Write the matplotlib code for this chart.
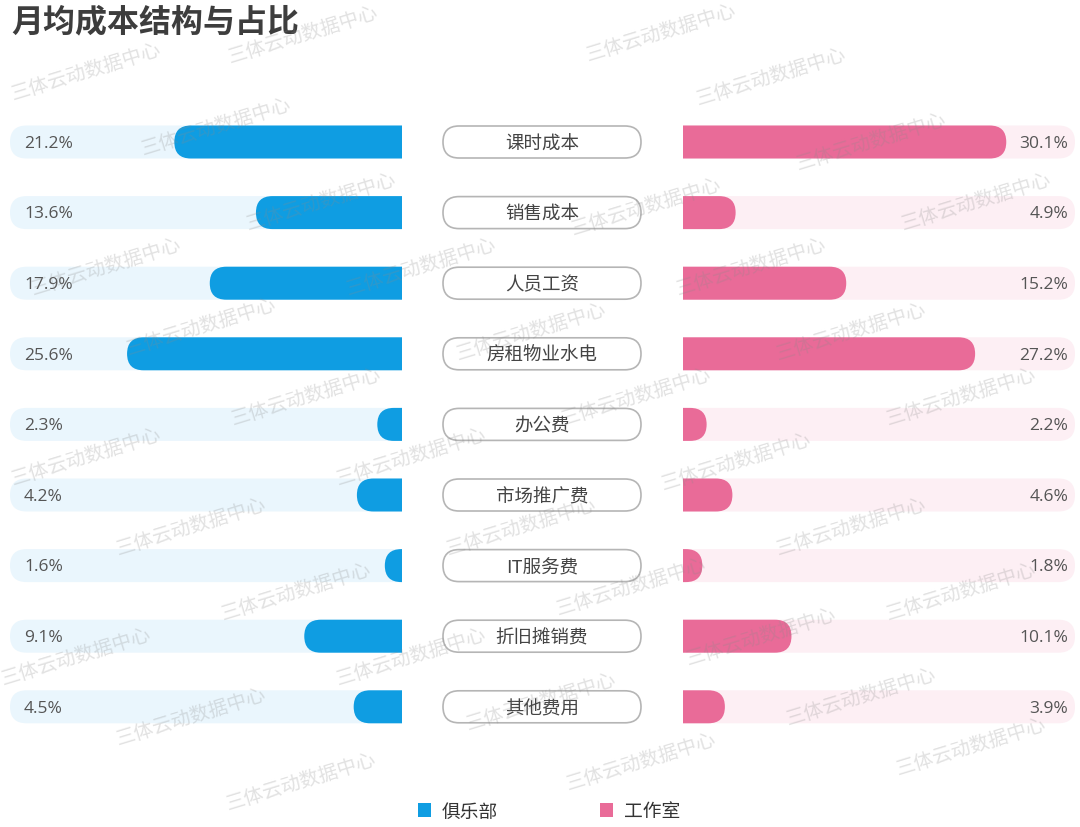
import numpy as np
import matplotlib
matplotlib.use('Agg')
import matplotlib.pyplot as plt
from matplotlib.patches import FancyBboxPatch, Patch

plt.rcParams['font.family'] = ['Noto Sans CJK SC', 'DejaVu Sans']

# data
categories = ['课时成本', '销售成本', '人员工资', '房租物业水电', '办公费',
              '市场推广费', 'IT服务费', '折旧摊销费', '其他费用']
club = [21.2, 13.6, 17.9, 25.6, 2.3, 4.2, 1.6, 9.1, 4.5]
studio = [30.1, 4.9, 15.2, 27.2, 2.2, 4.6, 1.8, 10.1, 3.9]
series_names = ['俱乐部', '工作室']

BLUE = '#0f9de2'
BLUE_BG = '#eaf6fd'
PINK = '#e96b98'
PINK_BG = '#fdeff4'
XMAX = 36.5

W, H = 1080, 828
fig = plt.figure(figsize=(W / 100, H / 100), dpi=100)
fig.patch.set_facecolor('white')

n = len(categories)
row_px = 70.6
top_px = 143 - row_px / 2
ax_h = n * row_px
bottom = (H - top_px - ax_h) / H


def side_axes(x0, x1):
    ax = fig.add_axes([x0 / W, bottom, (x1 - x0) / W, ax_h / H])
    ax.set_ylim(n - 0.5, -0.5)
    ax.axis('off')
    return ax


ax_l = side_axes(10, 402)
ax_r = side_axes(683, 1075)
ax_c = side_axes(402, 683)
ax_l.set_xlim(XMAX, 0)
ax_r.set_xlim(0, XMAX)
ax_c.set_xlim(0, 1)

bar_h = 33 / row_px
px_x = 392 / XMAX
asp = (1 / row_px) / (1 / px_x)  # y-units per x-unit of equal pixel length
r = (bar_h / 2) / asp


def rounded(ax, v, color, z):
    # box mirrored around 0 and clipped by the axes -> flat inner end
    p = FancyBboxPatch((-v, -bar_h / 2), 2 * v, bar_h,
                       boxstyle=f'round,pad=0,rounding_size={r}',
                       mutation_aspect=asp, fc=color, ec='none', zorder=z)
    return p


pct_font = ['Open Sans', 'DejaVu Sans']
for i in range(n):
    for ax, v, c, bg in [(ax_l, club[i], BLUE, BLUE_BG), (ax_r, studio[i], PINK, PINK_BG)]:
        t = rounded(ax, XMAX, bg, 1)
        t.set_y(i - bar_h / 2)
        ax.add_patch(t)
        b = rounded(ax, v, c, 2)
        b.set_y(i - bar_h / 2)
        ax.add_patch(b)
    ax_l.text(14 / 392, i + 0.01, f'{club[i]}%', transform=ax_l.get_yaxis_transform(),
              ha='left', va='center', fontsize=12.5, color='#555555', zorder=3,
              family=pct_font)
    ax_r.text(385 / 392, i + 0.01, f'{studio[i]}%', transform=ax_r.get_yaxis_transform(),
              ha='right', va='center', fontsize=12.5, color='#555555', zorder=3,
              family=pct_font)

# center pill labels
cw = 281
ph = 32 / row_px
c_asp = (1 / row_px) / (1 / cw)
cr = (ph / 2) / c_asp
for i, cat in enumerate(categories):
    x0 = (443 - 402) / cw
    x1 = (641 - 402) / cw
    pill = FancyBboxPatch((x0, i - ph / 2), x1 - x0, ph,
                          boxstyle=f'round,pad=0,rounding_size={cr}',
                          mutation_aspect=c_asp, fc='white', ec='#b5b5b5', lw=1.2)
    ax_c.add_patch(pill)
    ax_c.text((x0 + x1) / 2, i + 0.02, cat, ha='center', va='center',
              fontsize=13.3, color='#444444')

fig.text(11 / W, 1 - 22 / H, '月均成本结构与占比', fontsize=23, fontweight='bold',
         color='#3d3d3d', ha='left', va='center')

handles = [Patch(fc=BLUE, ec='none'), Patch(fc=PINK, ec='none')]
fig.legend(handles, series_names, loc='center', bbox_to_anchor=(549 / W, 1 - 812 / H),
           ncol=2, frameon=False, fontsize=13.5, handlelength=0.7, handleheight=0.7,
           handletextpad=0.6, columnspacing=5.4, labelcolor='#333333')

# watermark
wm_pos = [(232, 68), (590, 66), (15, 105), (700, 110), (145, 160), (800, 175),
          (250, 235), (575, 240), (905, 235), (35, 300), (350, 300),
          (680, 300), (130, 360), (460, 365), (780, 365),
          (235, 430), (565, 430), (890, 430), (15, 490), (340, 490), (665, 495),
          (120, 560), (450, 560), (780, 560), (225, 625), (560, 620),
          (890, 625), (5, 690), (340, 690), (690, 670), (120, 750),
          (470, 735), (790, 730), (230, 815), (570, 795), (900, 780)]
for x, y in wm_pos:
    fig.text(x / W, 1 - y / H, '三体云动数据中心', fontsize=14, color='#8a8a8a',
             alpha=0.25, rotation=17, ha='left', va='bottom', zorder=10,
             rotation_mode='anchor')

fig.savefig('out.png', dpi=100, facecolor='white')
